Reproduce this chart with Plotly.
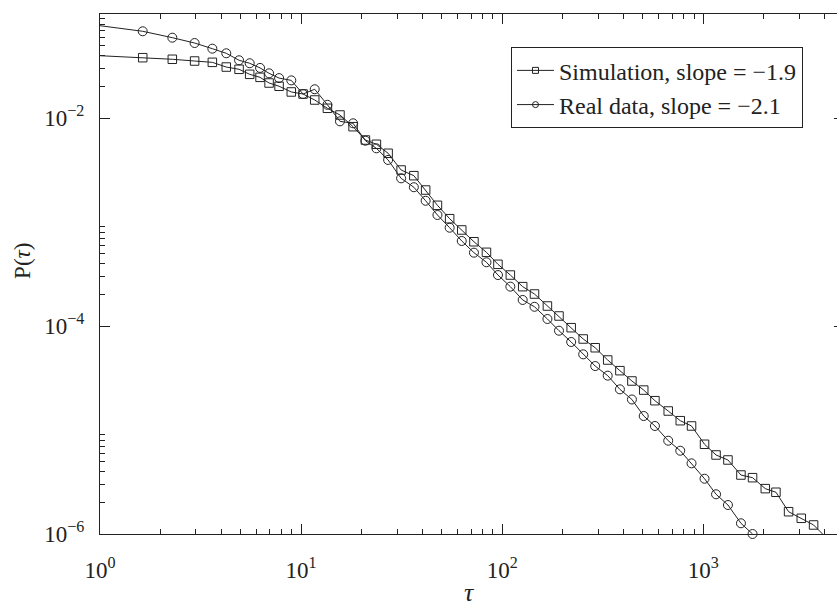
import plotly.graph_objects as go

# Waiting-time distribution P(tau) on log-log axes
tau = [0.95, 1.631, 2.289, 2.955, 3.620, 4.246, 4.916, 5.551, 6.252, 6.932,
       7.773, 8.939, 10.23, 11.69, 13.52, 15.61, 18.14, 20.89, 23.69, 27.09,
       31.44, 36.37, 41.64, 47.66, 54.81, 62.95, 72.39, 83.54, 95.30, 109.8,
       126.5, 144.8, 167.9, 191.7, 220.4, 252.9, 290.2, 334.9, 385.1, 441.9,
       505.8, 575.1, 669.7, 768.5, 874.6, 1015, 1158, 1327, 1540, 1759,
       2035, 2299, 2657, 3073, 3538, 4093]

p_sim = [0.0399, 0.0380, 0.0367, 0.0353, 0.0343, 0.0309, 0.0294, 0.0263, 0.0246, 0.0217,
         0.0202, 0.0178, 0.0170, 0.0149, 0.0124, 0.01069, 0.00825, 0.00614, 0.00559, 0.00458,
         0.00316, 0.00279, 0.00203, 0.001447, 0.001076, 0.000838, 0.000646, 0.000511, 0.000392, 0.000309,
         0.000239, 0.000203, 0.0001557, 0.0001248, 9.63e-5, 7.50e-5, 6.18e-5, 4.71e-5, 3.72e-5, 2.96e-5,
         2.42e-5, 1.913e-5, 1.523e-5, 1.229e-5, 1.093e-5, 7.29e-6, 5.75e-6, 5.15e-6, 3.69e-6, 3.48e-6,
         2.73e-6, 2.52e-6, 1.638e-6, 1.416e-6, 1.221e-6, 9.2e-7]

p_real = [0.0782, 0.0682, 0.0592, 0.0526, 0.0464, 0.0419, 0.0359, 0.0336, 0.0303, 0.0269,
          0.0242, 0.0230, 0.0170, 0.0189, 0.0134, 0.00929, 0.00889, 0.00605, 0.00511, 0.00395,
          0.00263, 0.00216, 0.00160, 0.001168, 0.000881, 0.000657, 0.000507, 0.000410, 0.000309, 0.000239,
          0.000178, 0.000153, 0.0001168, 9.01e-5, 7.02e-5, 5.34e-5, 4.12e-5, 3.33e-5, 2.46e-5, 1.965e-5,
          1.363e-5, 1.093e-5, 7.89e-6, 6.32e-6, 4.78e-6, 3.40e-6, 2.41e-6, 1.90e-6, 1.268e-6, 1.0e-6]

series_names = ["Simulation, slope = \u22121.9", "Real data, slope = \u22122.1"]
x_ticks = [1, 10, 100, 1000]
x_ticktext = ["10<sup>0</sup>", "10<sup>1</sup>", "10<sup>2</sup>", "10<sup>3</sup>"]
y_ticks = [1e-6, 1e-4, 1e-2]
y_ticktext = ["10<sup>\u22126</sup>", "10<sup>\u22124</sup>", "10<sup>\u22122</sup>"]

X_MIN, X_MAX = 1, 5012
Y_MIN, Y_MAX = 1e-6, 1e-1

INK = "#222222"
SERIF = "Liberation Serif, Times New Roman, serif"

def in_view(xs, ys):
    pts = [(x, y) for x, y in zip(xs, ys)
           if X_MIN <= x <= X_MAX and Y_MIN * 0.999 <= y <= Y_MAX]
    return [p[0] for p in pts], [p[1] for p in pts]

fig = go.Figure()

series = [
    (tau[:len(p_sim)], p_sim, "square-open", 8.5, series_names[0]),
    (tau[:len(p_real)], p_real, "circle-open", 9, series_names[1]),
]

for xs, ys, sym, size, name in series:
    # full polyline, clipped by the axes box
    fig.add_trace(go.Scatter(
        x=xs, y=ys, mode="lines", line=dict(color=INK, width=1),
        showlegend=False, hoverinfo="skip"))
    # markers for points inside the axes, drawn unclipped
    vx, vy = in_view(xs, ys)
    fig.add_trace(go.Scatter(
        x=vx, y=vy, mode="markers", cliponaxis=False,
        marker=dict(symbol=sym, size=size, color=INK, line=dict(color=INK, width=1)),
        showlegend=False, name=name))
    # legend key
    fig.add_trace(go.Scatter(
        x=[None], y=[None], mode="lines+markers", name=name,
        line=dict(color=INK, width=1),
        marker=dict(symbol=sym, size=6, color=INK, line=dict(color=INK, width=1))))

minor_x = [m * 10 ** d for d in range(0, 4) for m in range(2, 10) if m * 10 ** d <= X_MAX]
minor_y = [m * 10.0 ** d for d in (-6, -4, -2) for m in range(2, 10)]

axis_common = dict(
    type="log", showgrid=False, zeroline=False,
    showline=True, linecolor=INK, linewidth=1.2, mirror="ticks",
    ticks="inside", ticklen=10, tickwidth=1, tickcolor=INK,
    tickfont=dict(family=SERIF, size=23, color=INK),
    tickmode="array",
)

fig.update_xaxes(
    **axis_common,
    range=[0, 3.7],
    tickvals=x_ticks, ticktext=x_ticktext,
    ticklabelstandoff=15,
    minor=dict(tickmode="array", tickvals=minor_x, ticks="inside",
               ticklen=5, tickwidth=1, tickcolor=INK, showgrid=False),
)
fig.update_yaxes(
    **axis_common,
    range=[-6, -1],
    tickvals=y_ticks, ticktext=y_ticktext,
    ticklabelstandoff=10,
    minor=dict(tickmode="array", tickvals=minor_y, ticks="inside",
               ticklen=5, tickwidth=1, tickcolor=INK, showgrid=False),
)

fig.add_annotation(text="<i>\u03c4</i>", xref="paper", yref="paper",
                   x=0.497, y=-0.112, xanchor="center", yanchor="middle",
                   showarrow=False, font=dict(family=SERIF, size=26, color=INK))
fig.add_annotation(text="P(<i>\u03c4</i>)", xref="paper", yref="paper",
                   x=-0.105, y=0.525, xanchor="center", yanchor="middle",
                   textangle=-90, showarrow=False,
                   font=dict(family=SERIF, size=23, color=INK))

fig.update_layout(
    width=854, height=607,
    margin=dict(l=100, r=10, t=14, b=73),
    paper_bgcolor="white", plot_bgcolor="white",
    font=dict(family=SERIF, color=INK),
    legend=dict(
        x=0.5524, y=0.936, xanchor="left", yanchor="top",
        bgcolor="white", bordercolor=INK, borderwidth=1,
        font=dict(family=SERIF, size=24, color=INK),
        itemwidth=37, tracegroupgap=0,
    ),
)

fig.write_html(
    "out.html",
    post_script="document.documentElement.style.overflow='hidden';"
                "document.body.style.overflow='hidden';document.body.style.margin='0';",
)
